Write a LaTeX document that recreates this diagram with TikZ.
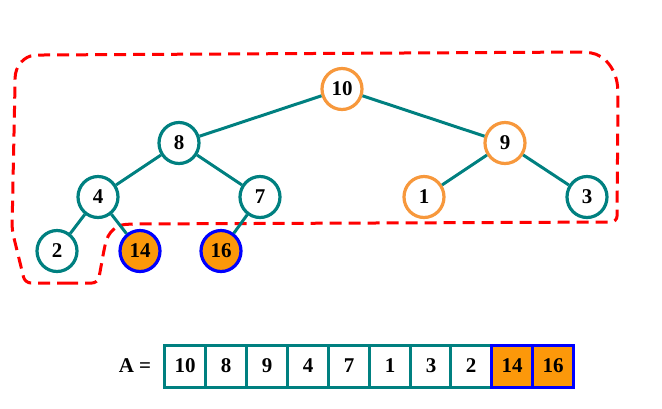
\documentclass[tikz,border=0pt]{standalone}
\usepackage{fontspec}
\setmainfont{Liberation Serif}
\usetikzlibrary{shapes.geometric}
\definecolor{tealc}{RGB}{0,128,128}
\definecolor{orline}{RGB}{247,152,60}
\definecolor{orfill}{RGB}{252,152,10}
\definecolor{blueline}{RGB}{0,0,255}
\tikzset{
  hnode/.style={ellipse, draw=tealc, line width=3.2pt, fill=white, minimum width=40pt, minimum height=41pt, inner sep=0pt, font=\bfseries\fontsize{21}{21}\selectfont},
  ornode/.style={hnode, draw=orline},
  donenode/.style={hnode, draw=blueline, fill=orfill},
  edge/.style={draw=tealc, line width=3pt},
  cell/.style={rectangle, draw=tealc, line width=3pt, fill=white, minimum width=41pt, minimum height=42pt, inner sep=0pt, font=\bfseries\fontsize{21}{21}\selectfont},
  donecell/.style={cell, draw=blueline, fill=orfill},
  reddash/.style={draw=red, line width=3pt, dash pattern=on 12pt off 7pt}
}
\begin{document}
\begin{tikzpicture}[x=1pt,y=-1pt]
\useasboundingbox (0,0) rectangle (662,408);
% dashed region
\draw[reddash, rounded corners=6pt] (60,283) -- (98,283) -- (104,250) .. controls (108,232) and (116,225) .. (132,224) -- (617,222) -- (618,95) .. controls (617,70) and (605,55) .. (585,52) -- (40,55) .. controls (25,56) and (15,65) .. (15,85) -- (12,230) -- (25,283) -- cycle;
% tree
\node[ornode] (n10) at (342,89) {10};
\node[hnode] (n8) at (179,143) {8};
\node[ornode] (n9) at (505,143) {9};
\node[hnode] (n4) at (98,197) {4};
\node[hnode] (n7) at (260,197) {7};
\node[ornode] (n1) at (424,197) {1};
\node[hnode] (n3) at (587,197) {3};
\node[hnode] (n2) at (57,251) {2};
\node[donenode] (n14) at (140,251) {14};
\node[donenode] (n16) at (221,251) {16};
\path[edge] (n10) -- (n8);
\path[edge] (n10) -- (n9);
\path[edge] (n8) -- (n4);
\path[edge] (n8) -- (n7);
\path[edge] (n9) -- (n1);
\path[edge] (n9) -- (n3);
\path[edge] (n4) -- (n2);
\path[edge] (n4) -- (n14);
\path[edge] (n7) -- (n16);
% array
\node[font=\bfseries\fontsize{21}{21}\selectfont] (alabel) at (135,366) {A =};
\node[cell] (c1) at (185,366) {10};
\node[cell] (c2) at (226,366) {8};
\node[cell] (c3) at (267,366) {9};
\node[cell] (c4) at (308,366) {4};
\node[cell] (c5) at (349,366) {7};
\node[cell] (c6) at (390,366) {1};
\node[cell] (c7) at (431,366) {3};
\node[cell] (c8) at (471,366) {2};
\node[donecell] (c9) at (512,366) {14};
\node[donecell] (c10) at (553,366) {16};
\end{tikzpicture}
\end{document}
